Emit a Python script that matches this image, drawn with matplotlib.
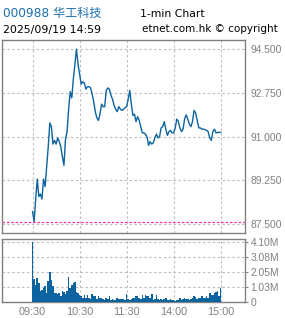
"""
1-min intraday chart, 000988 华工科技, 2025/09/19 (etnet style).
Price panel on top, volume bars below, axis labels on the right.
"""

import numpy as np
import matplotlib
matplotlib.use("Agg")
import matplotlib.pyplot as plt
from matplotlib.ticker import FixedLocator, FuncFormatter

# ---- data (2-minute samples, 09:30 -> 15:00, lunch break removed) ----
PRICE = [
    88.00, 87.60, 88.50, 89.30, 88.60, 88.70, 88.50, 89.30, 89.00, 89.80,
    90.60, 91.55, 91.40, 90.70, 90.85, 90.70, 90.95, 90.80, 90.60, 90.20,
    89.85, 90.90, 91.20, 92.10, 92.80, 92.55, 93.30, 93.90, 94.50, 93.90,
    93.50, 93.10, 93.20, 93.15, 92.90, 93.00, 93.00, 92.95, 92.70, 92.40,
    92.00, 91.75, 91.65, 91.90, 92.30, 92.20, 92.20, 92.85, 92.95, 92.90,
    92.65, 92.50, 92.25, 92.10, 92.00, 92.20, 92.10, 92.05, 92.10, 92.15,
    92.20, 92.50, 92.85, 92.30, 91.85, 91.90, 91.60, 91.80, 91.65, 91.40,
    91.15, 91.15, 91.10, 91.00, 90.65, 90.80, 90.70, 90.75, 90.95, 91.10,
    90.95, 91.00, 91.35, 91.40, 91.60, 91.30, 91.05, 91.20, 91.25, 91.15,
    91.15, 91.35, 91.70, 91.60, 91.35, 91.20, 91.30, 91.72, 91.87, 91.70,
    91.50, 91.40, 91.60, 92.05, 91.95, 91.65, 91.35, 91.35, 91.30, 91.30,
    91.28, 91.25, 91.20, 90.95, 90.85, 91.20, 91.30, 91.15, 91.17, 91.17,
    91.17,
]

VOLUME_M = [
    4.102, 1.55, 1.16, 1.62, 1.28, 0.75, 0.82, 0.93, 1.05, 0.59,
    1.44, 2.04, 1.50, 1.05, 0.59, 0.59, 0.52, 0.60, 0.36, 0.75,
    0.66, 0.52, 0.75, 1.74, 0.98, 1.16, 1.28, 1.39, 0.70, 0.59,
    0.47, 0.36, 0.29, 0.43, 0.29, 0.47, 0.24, 0.20, 0.52, 0.36,
    0.36, 0.20, 0.36, 0.24, 0.29, 0.20, 0.13, 0.29, 0.20, 0.36,
    0.13, 0.20, 0.13, 0.13, 0.24, 0.17, 0.17, 0.17, 0.20, 0.13,
    0.55, 0.20, 0.13, 0.20, 0.29, 0.24, 0.36, 0.36, 0.29, 0.17,
    0.47, 0.29, 0.43, 0.36, 0.38, 0.24, 0.52, 0.13, 0.17, 0.43,
    0.17, 0.13, 0.17, 0.13, 0.20, 0.24, 0.13, 0.13, 0.17, 0.13,
    0.13, 0.06, 0.13, 0.13, 0.24, 0.13, 0.20, 0.29, 0.17, 0.17,
    0.13, 0.17, 0.29, 0.36, 0.35, 0.17, 0.24, 0.24, 0.36, 0.29,
    0.29, 0.36, 0.29, 0.59, 0.47, 0.43, 0.59, 0.70, 0.75, 0.36,
    0.98,
]

PREV_CLOSE = 87.58
STEP_MIN = 2
TIME_TICKS = [0, 60, 120, 180, 240]
TIME_LABELS = ["09:30", "10:30", "11:30", "14:00", "15:00"]
PRICE_TICKS = [87.5, 89.25, 91.0, 92.75, 94.5]

BLUE = "#0b64a0"
GREY = "#808080"
GRID = "#bdbdbd"
TICK_FONT = "Liberation Sans"
TICK_SIZE = 7.4

W, H = 285, 318


def frac(x0, y0, x1, y1):
    # pixel box (top-left origin) -> figure fraction rect
    return [x0 / W, 1 - y1 / H, (x1 - x0) / W, (y1 - y0) / H]


def style_panel(ax):
    for sp in ax.spines.values():
        sp.set_color(GREY)
        sp.set_linewidth(1.0)
    ax.grid(True, color=GRID, ls=(0, (2.2, 2.2)), lw=0.8)
    ax.set_axisbelow(True)
    ax.yaxis.tick_right()
    ax.set_xlim(-39, 271)
    ax.xaxis.set_major_locator(FixedLocator(TIME_TICKS))


def main():
    minutes = np.arange(len(PRICE)) * STEP_MIN
    vol = np.array(VOLUME_M) * 1e6
    vmax = vol.max()

    fig = plt.figure(figsize=(W / 100, H / 100), dpi=100)

    # ---- price panel ----
    ax = fig.add_axes(frac(2, 40, 245, 233))
    style_panel(ax)
    ax.plot(minutes, PRICE, color=BLUE, lw=1.0, zorder=3)
    ax.axhline(PREV_CLOSE, color="#ff3399", lw=0.9, ls=(0, (2, 1.5)), zorder=2)
    ax.set_ylim(87.14, 94.87)
    ax.yaxis.set_major_locator(FixedLocator(PRICE_TICKS))
    ax.yaxis.set_major_formatter(FuncFormatter(lambda v, p: f"{v:.3f}"))
    ax.tick_params(axis="x", length=0, labelbottom=False)
    ax.tick_params(axis="y", length=0, pad=4.3, labelcolor=GREY,
                   labelsize=TICK_SIZE, labelfontfamily=TICK_FONT)

    # ---- volume panel ----
    axv = fig.add_axes(frac(2, 239.3, 245, 301.7))
    style_panel(axv)
    axv.bar(minutes, vol, width=2.0, color=BLUE, lw=0, zorder=3)
    axv.set_ylim(0, vmax * 62.4 / 59.4)
    axv.yaxis.set_major_locator(FixedLocator(vmax * np.array([0, .25, .5, .75, 1])))
    axv.yaxis.set_major_formatter(
        FuncFormatter(lambda v, p: "0" if v == 0 else f"{v / 1e6:.2f}M"))
    axv.set_xticklabels(TIME_LABELS)
    axv.tick_params(axis="x", length=0, pad=4, labelcolor=GREY,
                    labelsize=TICK_SIZE + 0.4, labelfontfamily=TICK_FONT)
    axv.tick_params(axis="y", length=2.5, width=0.8, color=GREY, pad=1.5,
                    labelcolor=GREY, labelsize=TICK_SIZE, labelfontfamily=TICK_FONT)

    # ---- header ----
    fig.text(3 / W, 1 - 17.3 / H, "000988 华工科技", color="#1a6faf", fontsize=8.7,
             family=["DejaVu Sans", "Noto Sans CJK SC"], va="baseline")
    fig.text(3 / W, 1 - 32.7 / H, "2025/09/19 14:59", color="black", fontsize=7.9,
             va="baseline")
    fig.text(140 / W, 1 - 16.7 / H, "1-min Chart", color="black", fontsize=7.8,
             va="baseline")
    fig.text(142 / W, 1 - 32.5 / H, "etnet.com.hk © copyright", color="black",
             fontsize=7.5, va="baseline")

    fig.savefig("out.png", dpi=100)
    plt.close(fig)


if __name__ == "__main__":
    main()
